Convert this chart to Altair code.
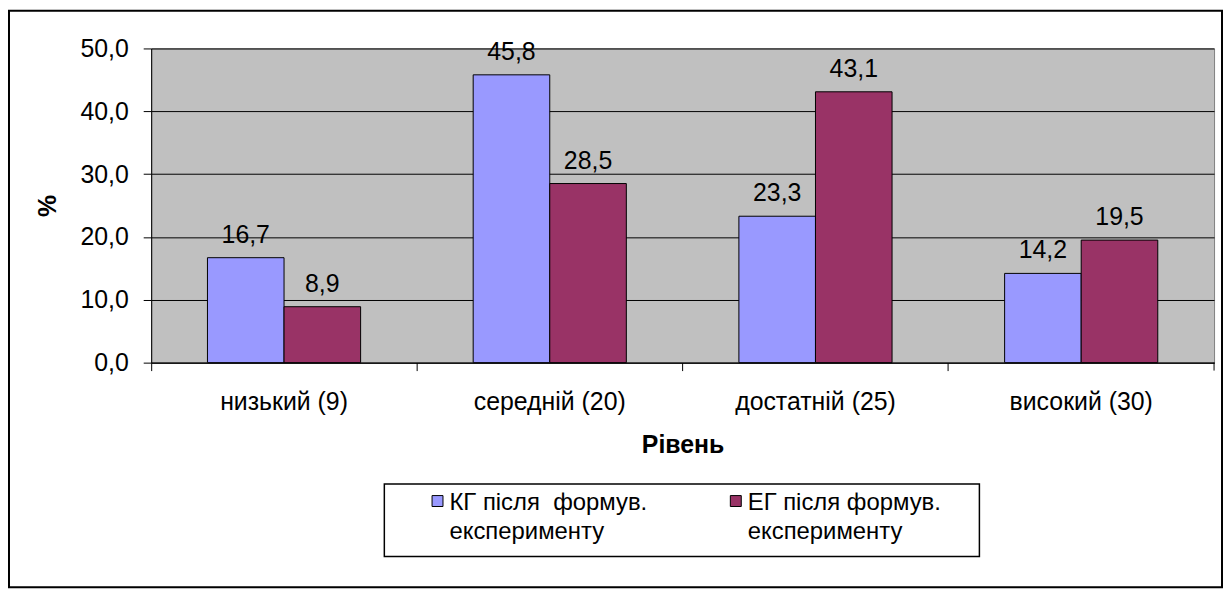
import altair as alt
import pandas as pd

categories = ["низький (9)", "середній (20)", "достатній (25)", "високий (30)"]
series_names = [
    "КГ після \u00a0формув.|експерименту",
    "ЕГ після формув.|експерименту",
]
kg_values = [16.7, 45.8, 23.3, 14.2]
eg_values = [8.9, 28.5, 43.1, 19.5]
colors = ["#9999FF", "#993366"]
y_ticks = [0, 10, 20, 30, 40, 50]

rows = []
for i, c in enumerate(categories):
    rows.append({"cat": c, "series": series_names[0], "value": kg_values[i]})
    rows.append({"cat": c, "series": series_names[1], "value": eg_values[i]})
df = pd.DataFrame(rows)

FONT = "Liberation Sans"
FS = 25
W, H = 1069, 316

x = alt.X(
    "cat:N",
    sort=categories,
    scale=alt.Scale(paddingInner=0, paddingOuter=0),
    axis=alt.Axis(
        title="Рівень",
        bandPosition=0,
        labelAngle=0,
        labelFont=FONT,
        labelFontSize=FS,
        labelColor="black",
        labelPadding=19,
        tickSize=8,
        tickColor="black",
        domainColor="black",
        titleFont=FONT,
        titleFontSize=FS,
        titleFontWeight="bold",
        titleColor="black",
        titlePadding=18,
    ),
)
xoff = alt.XOffset(
    "series:N",
    sort=series_names,
    scale=alt.Scale(paddingInner=0, paddingOuter=0.735),
)
y = alt.Y(
    "value:Q",
    scale=alt.Scale(domain=[0, 50], nice=False),
    axis=alt.Axis(
        title="%",
        values=y_ticks,
        labelExpr="replace(format(datum.value, '.1f'), '.', ',')",
        labelFont=FONT,
        labelFontSize=FS,
        labelColor="black",
        labelPadding=15,
        tickSize=8,
        tickColor="black",
        domainColor="black",
        gridColor="black",
        gridWidth=1,
        titleFont=FONT,
        titleFontSize=FS,
        titleFontWeight="bold",
        titleColor="black",
        titlePadding=20,
    ),
)

bars = alt.Chart(df).mark_bar(stroke="black", strokeWidth=1).encode(
    x=x,
    xOffset=xoff,
    y=y,
    color=alt.Color(
        "series:N",
        sort=series_names,
        scale=alt.Scale(domain=series_names, range=colors),
        legend=alt.Legend(
            title=None,
            orient="none",
            legendX=235,
            legendY=438,
            columns=2,
            direction="horizontal",
            labelExpr="split(datum.label, '|')",
            labelFont=FONT,
            labelFontSize=24,
            labelColor="black",
            labelLimit=500,
            labelBaseline="alphabetic",
            labelOffset=0,
            symbolType="M-1,-2.6H1V-0.6H-1Z",
            symbolSize=121,
            symbolStrokeColor="black",
            symbolStrokeWidth=1,
            symbolOffset=27,
            columnPadding=50,
            padding=14,
        ),
    ),
)

labels = (
    alt.Chart(df)
    .transform_calculate(lbl="replace(format(datum.value, '.1f'), '.', ',')")
    .mark_text(baseline="alphabetic", dy=-15, font=FONT, fontSize=FS, color="black")
    .encode(x=x, xOffset=xoff, y=y, text="lbl:N")
)

end_tick = (
    alt.Chart(alt.Data(values=[{"t": 1}]))
    .mark_rule(color="black", strokeWidth=1)
    .encode(x=alt.value(W), y=alt.value(H), y2=alt.value(H + 8))
)

legend_box = (
    alt.Chart(alt.Data(values=[{"b": 1}]))
    .mark_rect(filled=False, stroke="black", strokeWidth=1.5)
    .encode(x=alt.value(234.5), x2=alt.value(833), y=alt.value(438), y2=alt.value(511))
)

frame = (
    alt.Chart(alt.Data(values=[{"f": 1}]))
    .mark_rect(filled=False, stroke="black", strokeWidth=2)
    .encode(x=alt.value(-143), x2=alt.value(1077), y=alt.value(-38), y2=alt.value(542))
)

chart = (
    alt.layer(bars, labels, end_tick, legend_box, frame)
    .properties(width=W, height=H, padding=0)
    .configure(style={"guide-label": {"lineHeight": 29}})
    .configure_view(fill="#C0C0C0", stroke="#808080", strokeWidth=1)
)

chart.save("out.html", embed_options={"renderer": "svg", "actions": False})
